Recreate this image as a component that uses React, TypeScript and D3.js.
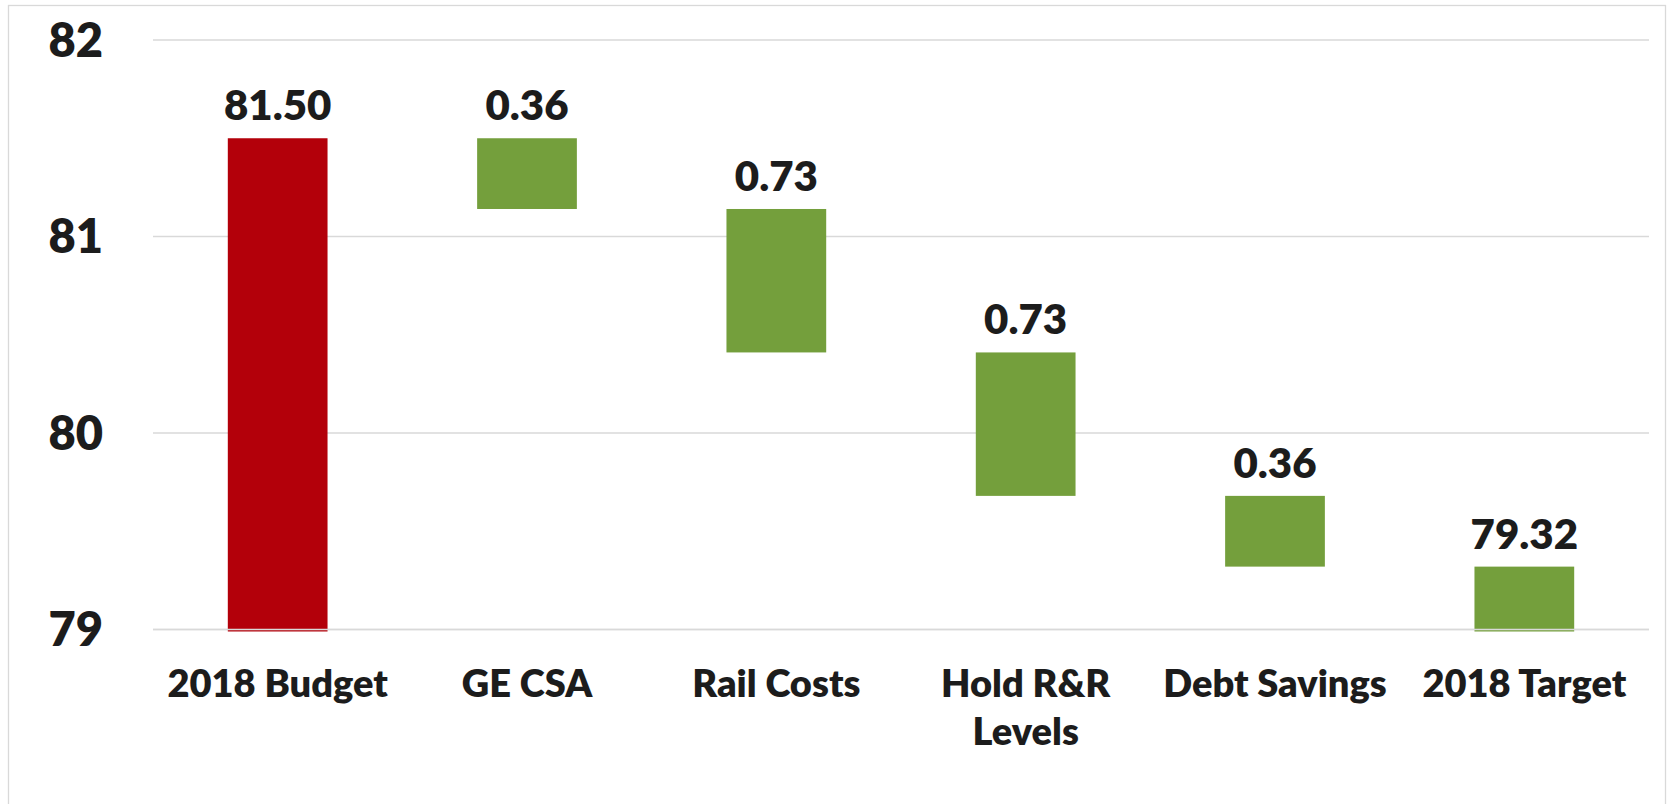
/*eslint-disable*/
import React, { useEffect, useRef } from 'react';
import * as d3 from 'd3';

const categories = ['2018 Budget', 'GE CSA', 'Rail Costs', 'Hold R&R Levels', 'Debt Savings', '2018 Target'];
const categoryLines = [['2018 Budget'], ['GE CSA'], ['Rail Costs'], ['Hold R&R', 'Levels'], ['Debt Savings'], ['2018 Target']];
const kinds = ['total', 'delta', 'delta', 'delta', 'delta', 'total'];
const values = [81.5, -0.36, -0.73, -0.73, -0.36, 79.32];
const yTicks = [79, 80, 81, 82];

const W = 1667;
const H = 804;

const App: React.FC = () => {
  const svgRef = useRef<SVGSVGElement>(null);

  useEffect(() => {
    document.body.style.margin = '0';
    const svg = d3.select(svgRef.current);
    svg.selectAll('*').remove();

    const font = "Lato, 'Open Sans', sans-serif";
    const ink = '#1c1c1c';

    // outer frame
    svg.append('rect')
      .attr('x', 8.5).attr('y', 5.5)
      .attr('width', W - 10).attr('height', H + 10)
      .attr('fill', '#fff')
      .attr('stroke', '#d9d9d9')
      .attr('stroke-width', 1.3);

    const x = d3.scaleBand()
      .domain(categories)
      .range([153, 1649])
      .paddingInner(0.6)
      .paddingOuter(0.3);

    const y = d3.scaleLinear().domain([79, 82]).range([629.5, 40]);

    // waterfall
    let running = 0;
    const bars = categories.map((c, i) => {
      let lo: number, hi: number, label: string;
      if (kinds[i] === 'total') {
        running = values[i];
        lo = 79; hi = values[i];
        label = values[i].toFixed(2);
      } else {
        const start = running;
        running = +(running + values[i]).toFixed(2);
        lo = Math.min(start, running); hi = Math.max(start, running);
        label = Math.abs(values[i]).toFixed(2);
      }
      return { c, lo, hi, label, color: i === 0 ? '#b3000a' : '#749f3c', total: kinds[i] === 'total' };
    });

    // gridlines
    svg.append('g')
      .selectAll('line')
      .data(yTicks)
      .enter().append('line')
      .attr('x1', 153).attr('x2', 1649)
      .attr('y1', d => y(d)).attr('y2', d => y(d))
      .attr('stroke', '#d9d9d9')
      .attr('stroke-width', 1.4);

    svg.append('g')
      .selectAll('rect')
      .data(bars)
      .enter().append('rect')
      .attr('x', d => x(d.c)!)
      .attr('width', x.bandwidth())
      .attr('y', d => y(d.hi))
      .attr('height', d => y(d.lo) - y(d.hi) + (d.total ? 2 : 0))
      .attr('fill', d => d.color);

    // base axis line over bars
    svg.append('line')
      .attr('x1', 153).attr('x2', 1649)
      .attr('y1', y(79)).attr('y2', y(79))
      .attr('stroke', '#d9d9d9')
      .attr('stroke-width', 1.4);

    // value labels
    svg.append('g')
      .selectAll('text')
      .data(bars)
      .enter().append('text')
      .attr('x', d => x(d.c)! + x.bandwidth() / 2)
      .attr('y', d => y(d.hi) - 18)
      .attr('text-anchor', 'middle')
      .attr('font-family', font)
      .attr('font-weight', 800)
      .attr('font-size', 42)
      .attr('fill', ink)
      .text(d => d.label);

    // y tick labels
    svg.append('g')
      .selectAll('text')
      .data(yTicks)
      .enter().append('text')
      .attr('x', 103)
      .attr('y', d => y(d))
      .attr('dy', '0.36em')
      .attr('text-anchor', 'end')
      .attr('font-family', font)
      .attr('font-weight', 800)
      .attr('font-size', 47)
      .attr('fill', ink)
      .text(d => d);

    // category labels
    const cat = svg.append('g')
      .selectAll('text')
      .data(categories)
      .enter().append('text')
      .attr('x', d => x(d)! + x.bandwidth() / 2)
      .attr('y', 697)
      .attr('text-anchor', 'middle')
      .attr('font-family', font)
      .attr('font-weight', 800)
      .attr('font-size', 38)
      .attr('fill', ink);

    cat.selectAll('tspan')
      .data((d, i) => categoryLines[i])
      .enter().append('tspan')
      .attr('x', function () { return (this as any).parentNode.getAttribute('x'); })
      .attr('dy', (d, i) => (i === 0 ? 0 : 48))
      .text(d => d);
  }, []);

  return <svg ref={svgRef} width={W} height={H} style={{ display: 'block' }}></svg>;
};

export default App;
